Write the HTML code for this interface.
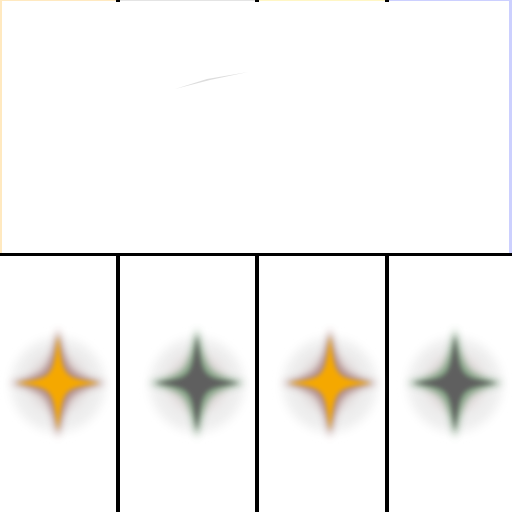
<!DOCTYPE html>
<html><head><meta charset="utf-8"><style>
html,body{margin:0;padding:0;background:#fff;width:512px;height:512px;overflow:hidden}
</style></head><body>
<svg width="512" height="512" viewBox="0 0 512 512">
<defs>
<filter id="b1" x="-50%" y="-50%" width="200%" height="200%"><feGaussianBlur stdDeviation="2.5"/></filter>
<filter id="b3" x="-50%" y="-50%" width="200%" height="200%"><feGaussianBlur stdDeviation="4"/></filter>
<filter id="b2" x="-50%" y="-50%" width="200%" height="200%"><feGaussianBlur stdDeviation="5"/></filter>
</defs>
<rect x="0" y="0" width="119" height="254" fill="#ffe9c0"/>
<rect x="119" y="0" width="139" height="254" fill="#e4e4e4"/>
<rect x="258" y="0" width="130" height="254" fill="#fff6c4"/>
<rect x="388" y="0" width="124" height="254" fill="#ccd0ff"/>
<rect x="2" y="1" width="507" height="252" fill="#fff"/>
<path d="M175,89 L207,79 L248,72 L210,80 Z" fill="#ddd"/>
<rect x="0" y="253" width="512" height="3" fill="#000"/>
<g id="marks"></g>
</svg>
<script>
const categories = ["A","B","C","D"];
const values = [1,1,1,1];
const coreColors = ["#f5a800","#5f5f5f","#f5a800","#5f5f5f"];
const haloColors = ["#a0706a","#5e8a62","#a0706a","#5e8a62"];
const centers = [58,197,330,455];
const dividers = [118,257,387];
const g = document.getElementById('marks');
const NS = "http://www.w3.org/2000/svg";
function yScale(v){return 383 - (v-1)*100;}
dividers.forEach((x,i)=>{
  const r=document.createElementNS(NS,'rect');
  r.setAttribute('x',x-2);r.setAttribute('y',254);r.setAttribute('width',4);r.setAttribute('height',258);r.setAttribute('fill','#000');
  
  
  g.appendChild(r);
  const t=document.createElementNS(NS,'rect');
  t.setAttribute('x',x-2);t.setAttribute('y',0);t.setAttribute('width',4);t.setAttribute('height',2);t.setAttribute('fill','#000');
  
  
  g.appendChild(t);
});
function star(cx,cy,h,v,w){
  return `M${cx-h},${cy} C${cx-w},${cy-w} ${cx-w},${cy-w} ${cx},${cy-v} C${cx+w},${cy-w} ${cx+w},${cy-w} ${cx+h},${cy} C${cx+w},${cy+w} ${cx+w},${cy+w} ${cx},${cy+v} C${cx-w},${cy+w} ${cx-w},${cy+w} ${cx-h},${cy} Z`;
}
categories.forEach((c,i)=>{
  const cx=centers[i], cy=yScale(values[i]);
  const grp=document.createElementNS(NS,'g');
  
  
  const halo=document.createElementNS(NS,'circle');
  halo.setAttribute('cx',cx);halo.setAttribute('cy',cy+2);halo.setAttribute('r',47);
  halo.setAttribute('fill','#eeeeee');halo.setAttribute('filter','url(#b2)');
  grp.appendChild(halo);
  const halo2=document.createElementNS(NS,'circle');
  halo2.setAttribute('cx',cx);halo2.setAttribute('cy',cy);halo2.setAttribute('r',30);
  halo2.setAttribute('fill','#e2dcdc');halo2.setAttribute('filter','url(#b2)');
  grp.appendChild(halo2);
  const s2=document.createElementNS(NS,'path');
  s2.setAttribute('d',star(cx,cy,48,55,10));
  s2.setAttribute('fill',haloColors[i]);s2.setAttribute('opacity','0.75');s2.setAttribute('filter','url(#b3)');
  grp.appendChild(s2);
  const s1=document.createElementNS(NS,'path');
  s1.setAttribute('d',star(cx,cy,42,48,5));
  s1.setAttribute('fill',coreColors[i]);s1.setAttribute('filter','url(#b1)');
  grp.appendChild(s1);
  g.appendChild(grp);
});
</script>
</body></html>
